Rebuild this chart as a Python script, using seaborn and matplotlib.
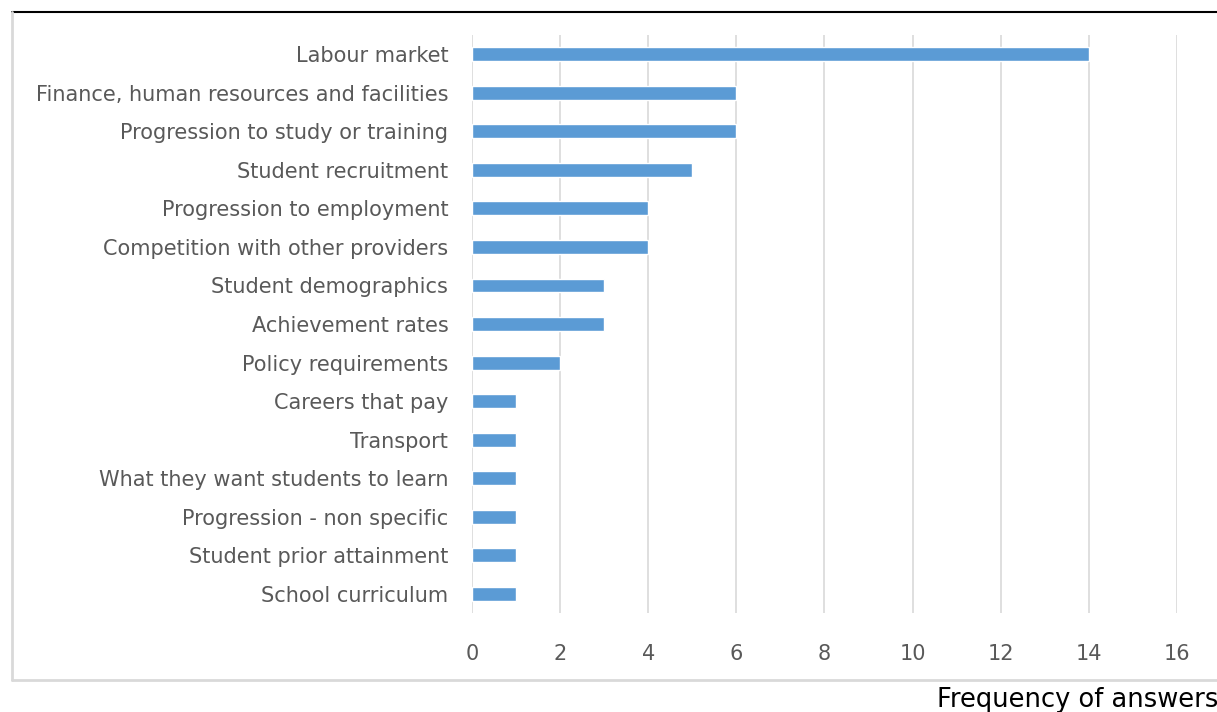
import numpy as np
import pandas as pd
import matplotlib
matplotlib.use('Agg')
import matplotlib.pyplot as plt
import seaborn as sns
from matplotlib.lines import Line2D

categories = ['Labour market', 'Finance, human resources and facilities',
              'Progression to study or training', 'Student recruitment',
              'Progression to employment', 'Competition with other providers',
              'Student demographics', 'Achievement rates', 'Policy requirements',
              'Careers that pay', 'Transport', 'What they want students to learn',
              'Progression - non specific', 'Student prior attainment',
              'School curriculum']
answers = [14, 6, 6, 5, 4, 4, 3, 3, 2, 1, 1, 1, 1, 1, 1]
x_ticks = [0, 2, 4, 6, 8, 10, 12, 14, 16]

df = pd.DataFrame({'Category': categories, 'Frequency': answers})

sns.set_style('white')
plt.rcParams['font.family'] = ['DejaVu Sans']

fig = plt.figure(figsize=(12.17, 7.12), dpi=100)
ax = fig.add_axes([0.3878, 0.139, 0.5793, 0.8118])
sns.barplot(data=df, x='Frequency', y='Category', color='#5b9bd5',
            width=0.36, saturation=1, ax=ax)

ax.set_xlim(0, 16)
ax.set_ylim(14.5, -0.5)
ax.set_xticks(x_ticks)
ax.grid(axis='x', color='#dcdcdc', linewidth=1.3)
ax.set_axisbelow(True)
for s in ax.spines.values():
    s.set_visible(False)
ax.tick_params(axis='y', length=0, pad=17, labelsize=15, labelcolor='#595959')
ax.tick_params(axis='x', length=0, pad=22, labelsize=15, labelcolor='#595959')
ax.set_xlabel('')
ax.set_ylabel('')

# frame lines around the chart
fig.add_artist(Line2D([12/1217, 1], [1-12/712, 1-12/712], color='black', linewidth=1.5))
fig.add_artist(Line2D([12/1217, 12/1217], [1-12/712, 1-680/712], color='#d9d9d9', linewidth=2))
fig.add_artist(Line2D([12/1217, 1], [1-680/712, 1-680/712], color='#d9d9d9', linewidth=2))

fig.text(937/1217, 1-700/712, 'Frequency of answers', fontsize=18.5, color='black',
         ha='left', va='center')

fig.savefig('out.png', dpi=100)
